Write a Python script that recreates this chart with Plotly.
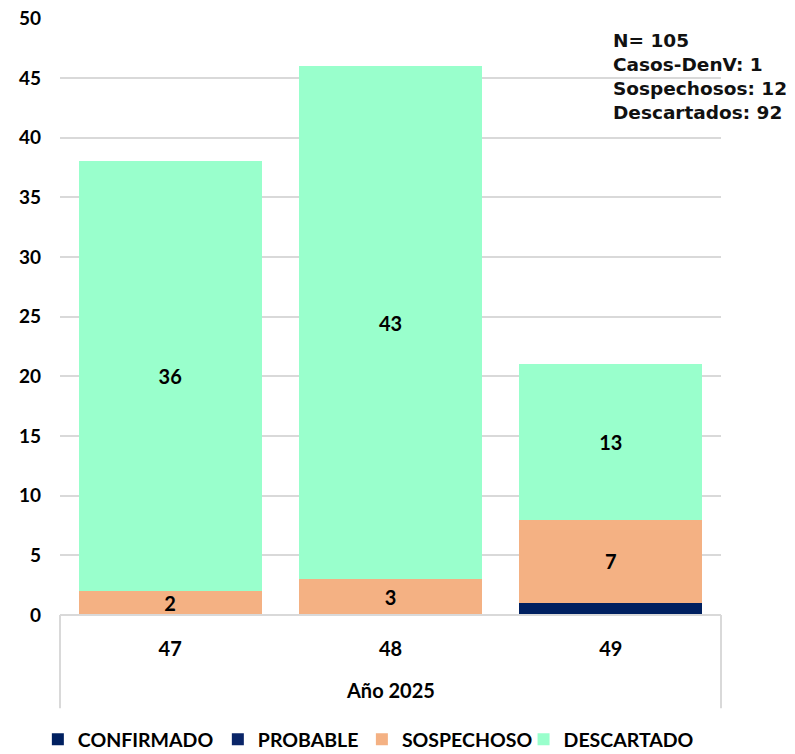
import plotly.graph_objects as go

semanas = ["47", "48", "49"]
confirmado = [0, 0, 1]
probable = [0, 0, 0]
sospechoso = [2, 3, 7]
descartado = [36, 43, 13]

colores = {"CONFIRMADO": "#002060", "PROBABLE": "#0a2568",
           "SOSPECHOSO": "#F4B183", "DESCARTADO": "#99FFCC"}

series = [("CONFIRMADO", confirmado), ("PROBABLE", probable),
          ("SOSPECHOSO", sospechoso), ("DESCARTADO", descartado)]

# cada serie en su propia leyenda para ubicar los items como en el original
leyendas = ["legend", "legend2", "legend3", "legend4"]
leg_x = [-0.0335, 0.2388, 0.4567, 0.7013]

fig = go.Figure()
for i, (nombre, vals) in enumerate(series):
    # etiquetas solo para sospechoso y descartado
    txt = [str(v) if (v > 0 and nombre in ("SOSPECHOSO", "DESCARTADO")) else "" for v in vals]
    fig.add_trace(go.Bar(
        x=semanas, y=vals, name=nombre, marker_color=colores[nombre],
        marker_line_width=0, width=0.83, legend=leyendas[i],
        text=txt, textposition="inside", insidetextanchor="middle", textangle=0,
        textfont=dict(family="Lato", size=20, color="black", weight="bold"),
        constraintext="none", cliponaxis=False,
    ))

# la pagina tiene 8px de margen en el body, por eso 787x746
fig.update_layout(
    barmode="stack",
    width=787, height=746,
    margin=dict(l=52, r=74, t=10, b=139, autoexpand=False),
    plot_bgcolor="white", paper_bgcolor="white",
    font=dict(family="Lato", size=18, color="black"),
    showlegend=True,
)
for i, lg in enumerate(leyendas):
    fig.update_layout({lg: dict(orientation="h", x=leg_x[i], xanchor="left",
                                y=-0.176, yanchor="top", itemwidth=30,
                                bgcolor="rgba(0,0,0,0)",
                                font=dict(family="Lato", size=19.5, weight="bold"))})

fig.update_xaxes(
    type="category", showgrid=False, showline=False, ticks="",
    ticklabelstandoff=20,
    tickfont=dict(family="Lato", size=20, weight="bold"),
    range=[-0.5, 2.5],
)
fig.update_yaxes(
    range=[0, 50.02], tickvals=list(range(0, 51, 5)),
    showgrid=True, gridcolor="#d9d9d9", gridwidth=1.5,
    zeroline=False, showline=False, ticks="",
    ticklabelstandoff=18, ticklabeloverflow="allow",
    tickfont=dict(family="Lato", size=19, weight="bold"),
)

# marco del eje de categorias (estilo multinivel)
linea = dict(color="#d9d9d9", width=2)
fig.add_shape(type="line", xref="paper", yref="paper", x0=0, x1=1, y0=0, y1=0, line=linea)
fig.add_shape(type="line", xref="paper", yref="paper", x0=0, x1=0, y0=0, y1=-0.156, line=linea)
fig.add_shape(type="line", xref="paper", yref="paper", x0=1, x1=1, y0=0, y1=-0.156, line=linea)

fig.add_annotation(text="Año 2025", xref="paper", yref="paper", x=0.5, y=-0.126,
                   yanchor="middle", showarrow=False,
                   font=dict(family="Lato", size=20, weight="bold"))

fig.add_annotation(
    text="N= 105<br>Casos-DenV: 1<br>Sospechosos: 12<br>Descartados: 92",
    xref="paper", yref="paper", x=0.834, y=0.984, xanchor="left", yanchor="top",
    align="left", showarrow=False,
    font=dict(family="DejaVu Sans", size=18.5, weight="bold", color="#111111"),
)

fig.write_html("out.html")
